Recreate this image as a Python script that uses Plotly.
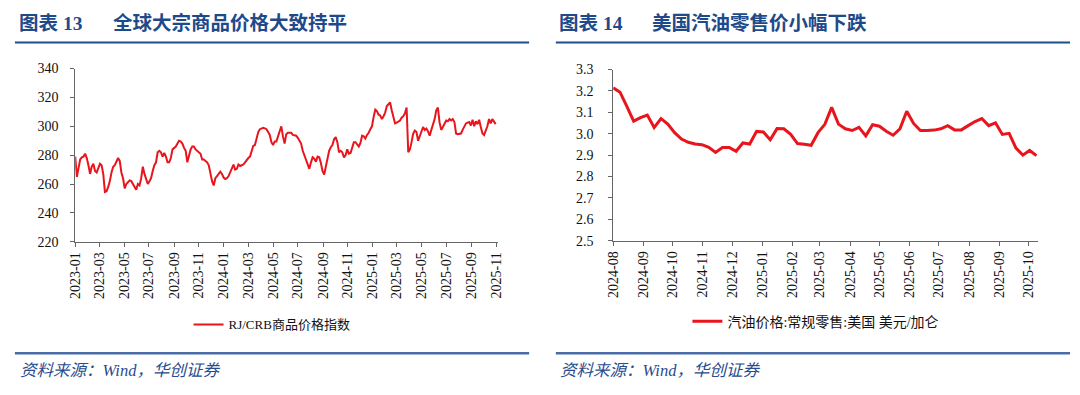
import pandas as pd
import plotly.graph_objects as go

# ---------------- data ----------------
crb_values = [
    279, 265, 271, 277, 278.5, 279, 281, 278, 273, 267,
    272, 274, 269, 268, 271, 274, 273, 267, 254.5, 255,
    258, 262, 268, 272, 273, 275.5, 278, 276, 268, 264,
    257, 260, 261.5, 262.5, 262, 260, 259, 256, 260, 259,
    264, 272, 267, 263, 260, 262, 264, 269, 273, 275,
    282, 283, 282, 279, 281.5, 279, 275, 275, 278, 284,
    285, 286, 288, 290, 289.5, 288, 285, 283, 275, 280,
    284, 286, 286, 284, 283, 282, 281, 277, 277, 276,
    275, 273, 267, 262, 259, 264,
    265.5, 267.5, 268.5, 267, 264.5, 263.5, 264, 265.5, 268, 271.5,
    273.5, 270, 270.5, 273.5, 272.5, 273, 273.5, 275, 277, 278,
    279, 283, 286.5, 287, 291, 296, 298, 298.5, 299, 298.5,
    298, 296, 294, 289, 287, 289.5, 289.5, 293, 296.5, 300,
    293, 288, 294.5, 295.5, 295.5, 295.5, 294, 293.5, 293.5, 292,
    290, 288, 283, 279.5, 276.5, 274, 270.5, 275, 278.5, 277.5,
    275.5, 279, 278.5, 274.5, 269, 266.5, 271.5, 276, 283, 285.5,
    287, 291, 292.5, 289, 282, 283, 282, 278.5, 280, 284,
    281, 281.5, 285.5, 289, 289, 287,
    286, 288.5, 293.5, 293, 291.5, 294, 295.5, 298, 300, 306.5,
    311.5, 310.5, 308, 307.5, 305, 307, 309.5, 314, 315.5, 316.5,
    311, 306, 302, 302.5, 303.5, 304, 306, 307, 309, 313,
    282, 284, 289, 295, 297, 296, 290, 293.5, 296.5, 299.5,
    297.5, 298.5, 296.5, 293.5, 297.5, 301.5, 305, 311, 313, 302.5,
    297.5, 299.5, 302, 304, 303.5, 305, 304, 305, 303, 295,
    294.5, 295, 295, 297.5, 300, 302, 302.5, 303, 300.5, 304.5,
    300, 303.5, 301.5, 304.5, 299.5, 295, 294, 297, 300, 305,
    302, 305, 303, 301.5,
]
crb_dates = pd.date_range("2023-01-03", "2025-11-01", periods=len(crb_values))

gas_values = [
    3.215, 3.194, 3.128, 3.059, 3.075, 3.087, 3.029, 3.071, 3.045, 3.005,
    2.975, 2.960, 2.952, 2.949, 2.937, 2.913, 2.936, 2.936, 2.918, 2.957,
    2.952, 3.011, 3.008, 2.972, 3.024, 3.023, 2.997, 2.954, 2.951, 2.946,
    3.005, 3.044, 3.123, 3.045, 3.023, 3.015, 3.030, 2.990, 3.042, 3.035,
    3.012, 2.993, 3.023, 3.105, 3.048, 3.015, 3.015, 3.017, 3.023, 3.038,
    3.018, 3.018, 3.038, 3.057, 3.071, 3.038, 3.051, 2.997, 3.002, 2.933,
    2.900, 2.922, 2.898,
]
gas_dates = pd.date_range("2024-08-05", periods=len(gas_values), freq="7D")

crb_name = "RJ/CRB商品价格指数"
gas_name = "汽油价格:常规零售:美国 美元/加仑"
title_left_num = "图表 13"
title_left = "全球大宗商品价格大致持平"
title_right_num = "图表 14"
title_right = "美国汽油零售价小幅下跌"
source_text = "资料来源：Wind，华创证券"

# ---------------- layout helpers ----------------
W, H = 1080, 395


def px(x):
    return x / W


def py(y):
    return 1 - y / H


RED = "#E8151D"
AX = "#666666"
SERIF = "Liberation Serif, Noto Sans CJK SC"
TITLE_BLUE = "#1F4A8A"
SRC_BLUE = "#2A4B8D"

fig = go.Figure()
fig.add_trace(go.Scatter(x=crb_dates, y=crb_values, mode="lines",
                         line=dict(color=RED, width=2), name=crb_name,
                         xaxis="x", yaxis="y", legend="legend"))
fig.add_trace(go.Scatter(x=gas_dates, y=gas_values, mode="lines",
                         line=dict(color=RED, width=3), name=gas_name,
                         xaxis="x2", yaxis="y2", legend="legend2"))

tickfont = dict(family=SERIF, size=14, color="#111111")
common_x = dict(type="date", tickformat="%Y-%m", tickangle=-90, ticks="outside",
                ticklen=4, tickcolor=AX, showline=True, linecolor=AX, linewidth=1,
                showgrid=False, zeroline=False, tickfont=tickfont)
common_y = dict(ticks="outside", ticklen=4, tickcolor=AX, showline=True,
                linecolor=AX, linewidth=1, showgrid=False, zeroline=False,
                tickfont=tickfont)

fig.update_layout(
    width=W, height=H,
    margin=dict(l=0, r=0, t=0, b=0),
    paper_bgcolor="white", plot_bgcolor="white",
    xaxis=dict(domain=[px(69), px(497)], anchor="y",
               range=["2023-01-03", "2025-11-08"], tick0="2023-01-03", dtick="M2",
               **common_x),
    yaxis=dict(domain=[py(244), py(64)], anchor="x", range=[220, 340], dtick=20,
               ticklabelstandoff=9, **common_y),
    xaxis2=dict(domain=[px(613), px(1043)], anchor="y2",
                range=["2024-08-05", "2025-10-15"], tick0="2024-08-05", dtick="M1",
                **common_x),
    yaxis2=dict(domain=[py(243), py(65)], anchor="x2", range=[2.5, 3.3], dtick=0.1,
                tickformat=".1f", ticklabelstandoff=12, **common_y),
    legend=dict(x=px(268), y=py(330), xanchor="center", yanchor="middle",
                orientation="h", font=dict(family=SERIF, size=13, color="#111111"),
                bgcolor="rgba(0,0,0,0)"),
    legend2=dict(x=px(818), y=py(327), xanchor="center", yanchor="middle",
                 orientation="h", font=dict(family=SERIF, size=14, color="#111111"),
                 bgcolor="rgba(0,0,0,0)"),
    showlegend=True,
)

# separator lines
shapes = []
for x0, x1 in [(8, 528), (555, 1075)]:
    shapes.append(dict(type="line", xref="paper", yref="paper", x0=px(x0), x1=px(x1),
                       y0=py(37), y1=py(37), line=dict(color="#1E4E8C", width=2)))
    shapes.append(dict(type="line", xref="paper", yref="paper", x0=px(x0), x1=px(x1),
                       y0=py(360), y1=py(360), line=dict(color="#4A6DA7", width=2.5)))
fig.update_layout(shapes=shapes)

annotations = []
for xnum, xtitle, num, title in [(10, 105, title_left_num, title_left),
                                 (556, 650, title_right_num, title_right)]:
    annotations.append(dict(x=px(xnum), y=py(17), xref="paper", yref="paper",
                            xanchor="left", yanchor="middle", showarrow=False,
                            text="<b>" + num + "</b>",
                            font=dict(family=SERIF, size=19.5, color=TITLE_BLUE)))
    annotations.append(dict(x=px(xtitle), y=py(17), xref="paper", yref="paper",
                            xanchor="left", yanchor="middle", showarrow=False,
                            text="<b>" + title + "</b>",
                            font=dict(family=SERIF, size=19.5, color=TITLE_BLUE)))
for xs in [11, 557]:
    annotations.append(dict(x=px(xs), y=py(378), xref="paper", yref="paper",
                            xanchor="left", yanchor="middle", showarrow=False,
                            text=source_text,
                            font=dict(family=SERIF, size=16.5, color=SRC_BLUE,
                                      style="italic")))
fig.update_layout(annotations=annotations)

fig.write_html(
    "out.html",
    config={"displayModeBar": False, "staticPlot": True},
    post_script=(
        "var gd=document.getElementById('{plot_id}');"
        "gd.style.position='fixed';gd.style.left='0px';gd.style.top='0px';"
        "document.body.style.margin='0';document.body.style.padding='0';"
        "document.body.style.overflow='hidden';"
        "document.documentElement.style.overflow='hidden';"
    ),
)
